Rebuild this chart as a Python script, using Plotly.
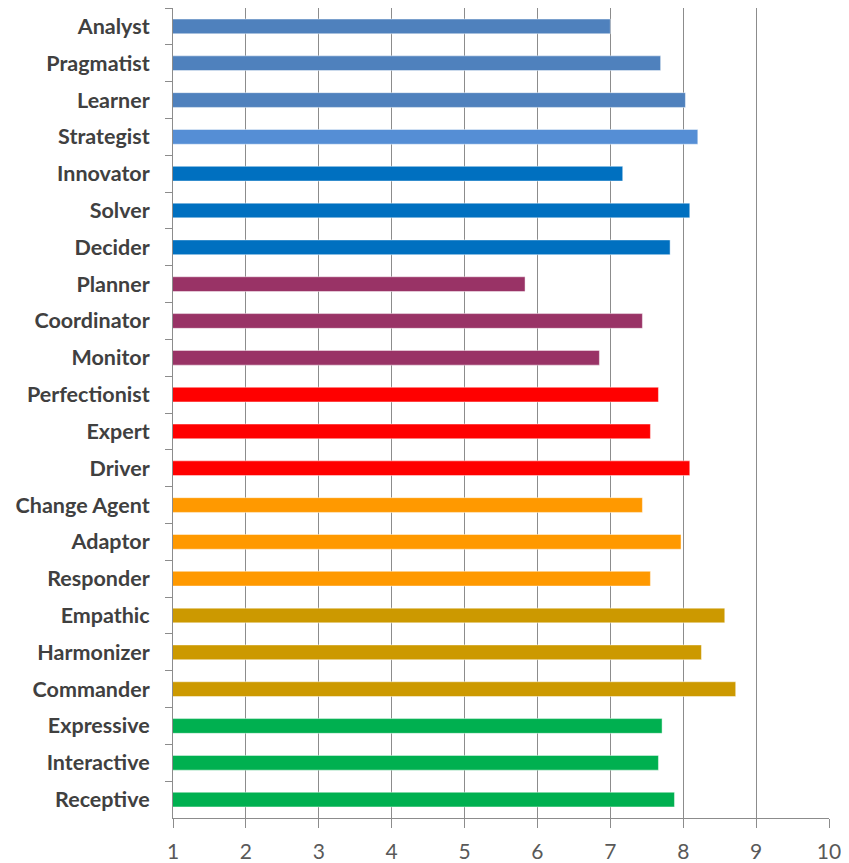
import plotly.graph_objects as go

categories = ["Analyst", "Pragmatist", "Learner", "Strategist", "Innovator", "Solver",
              "Decider", "Planner", "Coordinator", "Monitor", "Perfectionist", "Expert",
              "Driver", "Change Agent", "Adaptor", "Responder", "Empathic", "Harmonizer",
              "Commander", "Expressive", "Interactive", "Receptive"]
values = [7.00, 7.69, 8.03, 8.20, 7.17, 8.09, 7.82, 5.83, 7.44, 6.85, 7.66, 7.55,
          8.09, 7.44, 7.97, 7.55, 8.57, 8.25, 8.72, 7.71, 7.66, 7.88]
colors = ["#4F81BD", "#4F81BD", "#4F81BD", "#558ED5", "#0070C0", "#0070C0", "#0070C0",
          "#993366", "#993366", "#993366", "#FF0000", "#FF0000", "#FF0000",
          "#FF9900", "#FF9900", "#FF9900", "#CC9900", "#CC9900", "#CC9900",
          "#00B050", "#00B050", "#00B050"]
x_ticks = [1, 2, 3, 4, 5, 6, 7, 8, 9, 10]

fig = go.Figure(go.Bar(
    x=values, y=categories, orientation="h",
    marker=dict(color=colors, line=dict(color="rgba(255,255,255,0.45)", width=1)),
))

# page body has an 8px margin; size the figure to fit the 849x863 window
fig.update_layout(
    width=841, height=855,
    margin=dict(l=165, r=20, t=0, b=45, autoexpand=False),
    plot_bgcolor="white", paper_bgcolor="white",
    bargap=0.6, showlegend=False,
)
fig.update_xaxes(
    range=[1, 10], tickvals=x_ticks, showgrid=True, gridcolor="#8C8C8C", gridwidth=1,
    showline=True, linecolor="#8C8C8C", linewidth=1, ticks="outside", ticklen=9,
    tickcolor="#8C8C8C", zeroline=False, ticklabelstandoff=6,
    tickfont=dict(family="Lato", size=21, color="#595959"),
)
fig.update_yaxes(
    categoryorder="array", categoryarray=categories, autorange="reversed",
    tickson="boundaries", ticks="outside", ticklen=7, tickcolor="#8C8C8C",
    showline=True, linecolor="#8C8C8C", linewidth=1, showgrid=False,
    tickfont=dict(family="Lato", size=21.5, color="#404040", weight="bold"),
    ticklabelstandoff=18,
)
fig.write_html("out.html")
